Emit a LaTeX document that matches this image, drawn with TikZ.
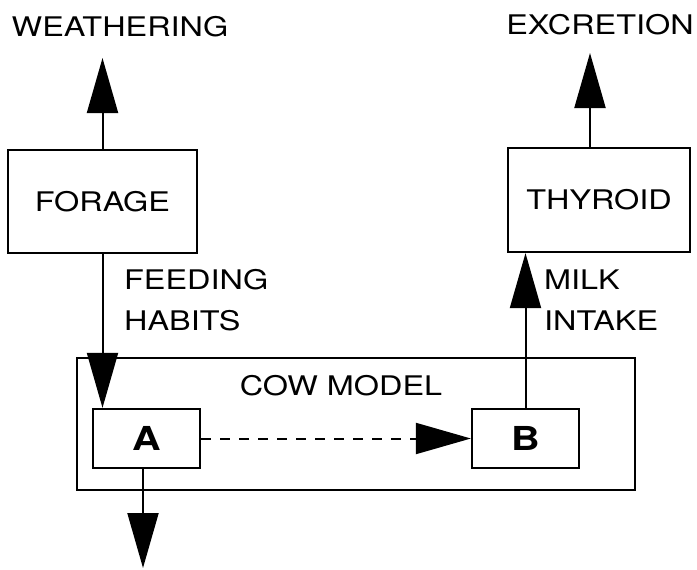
\documentclass[tikz,border=0pt]{standalone}
\usepackage{fontspec}
\setmainfont{TeX Gyre Heros}[FakeStretch=1.2]
\usetikzlibrary{arrows.meta}

\begin{document}
\begin{tikzpicture}[
    x=1pt, y=-1pt,
    box/.style={rectangle, draw=black, line width=2.2pt, inner sep=0pt, align=center, font=\fontsize{27}{41}\selectfont},
    part/.style={rectangle, draw=black, line width=2.2pt, inner sep=0pt, minimum width=107pt, minimum height=59pt, font=\fontsize{33}{40}\selectfont\bfseries},
    lbl/.style={inner sep=0pt, align=left, font=\fontsize{27}{41}\selectfont},
    arrow/.style={-{Triangle[length=55pt, width=31pt]}, line width=2pt},
    dasharrow/.style={arrow, dash pattern=on 10pt off 9pt}
]
\useasboundingbox (0,0) rectangle (697,570);

% Outer boxes
\node[box, minimum width=189pt, minimum height=103pt] (forage) at (102.5,201.5) {FORAGE};
\node[box, minimum width=182pt, minimum height=104pt] (thyroid) at (599,200) {THYROID};
\node[box, minimum width=558pt, minimum height=132pt] (cow) at (356,424) {};
\node[lbl] (cowlabel) at (341,386) {COW MODEL};

% Compartments
\node[part] (compA) at (146.5,438.5) {A};
\node[part] (compB) at (525.5,438.5) {B};

% Outflow labels
\node[lbl] (weathering) at (120,27) {WEATHERING};
\node[lbl] (excretion) at (600,25) {EXCRETION};
\node[lbl, anchor=west] (feeding) at (124,300) {FEEDING\\HABITS};
\node[lbl, anchor=west] (milk) at (544,300) {MILK\\INTAKE};

% Arrow ends
\coordinate (weathertip) at (102.5,58);
\coordinate (excretetip) at (590,53);
\coordinate (losstip) at (143,568);

% Arrows
\draw[arrow] (forage.north) -- (weathertip);
\draw[arrow] (thyroid.north -| excretetip) -- (excretetip);
\draw[arrow] (forage.south) -- (compA.north -| forage.south);
\draw[arrow] (compB.north) -- (thyroid.south -| compB.north);
\draw[dasharrow] (compA.east) -- (compB.west);
\draw[arrow] (compA.south -| losstip) -- (losstip);

\end{tikzpicture}
\end{document}
